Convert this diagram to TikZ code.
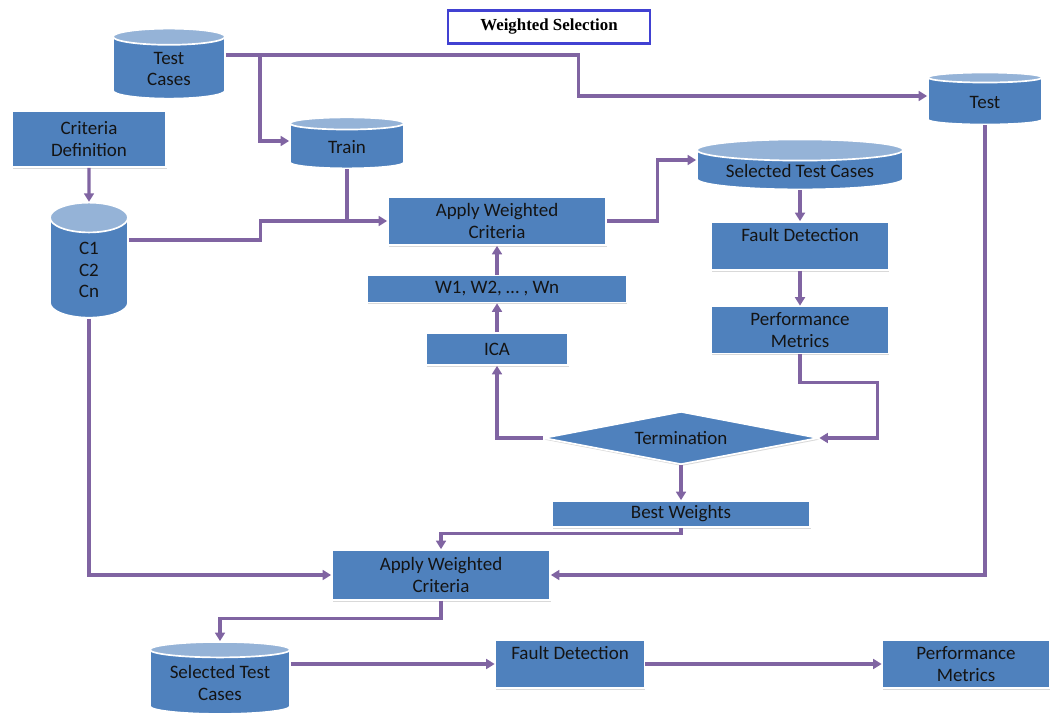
\documentclass[tikz,border=0pt]{standalone}
\usepackage{fontspec}
\setmainfont{Carlito}
\newfontfamily\titlefont{Liberation Serif}
\usetikzlibrary{shapes.geometric, arrows.meta, positioning, calc, shadows}

\definecolor{boxblue}{HTML}{4F81BD}
\definecolor{toplight}{HTML}{95B3D7}
\definecolor{linkpurple}{HTML}{8064A2}
\definecolor{titleblue}{HTML}{4141D2}
\definecolor{boxtext}{HTML}{141414}

\begin{document}
\begin{tikzpicture}[
    x=0.025cm, y=-0.025cm,
    % Node styles
    block/.style={
        rectangle, draw=white, line width=1.2pt, fill=boxblue,
        drop shadow={shadow xshift=0.6pt, shadow yshift=-1.2pt, opacity=0.3},
        font=\fontsize{13.5}{15.5}\selectfont, align=center, text=boxtext,
        inner sep=1pt
    },
    store/.style={
        cylinder, shape border rotate=90, draw=white, line width=1.2pt,
        cylinder uses custom fill, cylinder body fill=boxblue,
        cylinder end fill=toplight,
        font=\fontsize{13.5}{15.5}\selectfont, align=center, text=boxtext,
        inner sep=1pt
    },
    decision/.style={
        diamond, aspect=5.2, draw=white, line width=1.2pt, fill=boxblue,
        drop shadow={shadow xshift=0.6pt, shadow yshift=-1.2pt, opacity=0.3},
        font=\fontsize{13.5}{15.5}\selectfont, text=boxtext, inner sep=0pt
    },
    titlebox/.style={
        rectangle, draw=titleblue, line width=1.8pt, fill=white,
        font=\titlefont\bfseries\fontsize{12}{14}\selectfont,
        minimum width=5.05cm, minimum height=0.825cm
    },
    arrow/.style={
        -{Triangle[length=6pt, width=7pt]}, line width=2.2pt, linkpurple
    },
    link/.style={
        line width=2.2pt, linkpurple
    }
]
\useasboundingbox (0,0) rectangle (1058,715);

% --- Nodes ---
\node[titlebox] (title) at (549,27) {Weighted Selection};

\node[store, aspect=0.35, minimum width=2.8cm, minimum height=1.75cm] (tc) at (169,69) {Test\\Cases};
\node[block, minimum width=3.85cm, minimum height=1.4cm] (crit) at (89,139) {Criteria\\Definition};
\node[store, aspect=1.3, minimum width=1.95cm, minimum height=2.875cm] (cdb) at (89,270) {C1\\C2\\Cn};
\node[store, aspect=0.3, minimum width=2.85cm, minimum height=1.275cm] (train) at (347,147) {Train};
\node[store, aspect=0.3, minimum width=2.85cm, minimum height=1.3cm] (test) at (985,102) {Test};

\node[block, minimum width=5.45cm, minimum height=1.2cm] (apply1) at (497,221) {Apply Weighted\\Criteria};
\node[block, minimum width=6.475cm, minimum height=0.675cm] (wts) at (497,289) {W1, W2, … , Wn};
\node[block, minimum width=3.55cm, minimum height=0.8cm] (ica) at (497,349) {ICA};

\node[store, aspect=0.14, minimum width=5.15cm, minimum height=1.25cm] (sel1) at (800,171) {Selected Test Cases};
\node[block, minimum width=4.425cm, minimum height=1.2cm] (fd1) at (800,246) {Fault Detection\\\mbox{}};
\node[block, minimum width=4.425cm, minimum height=1.175cm] (pm1) at (800,330) {Performance\\Metrics};

\node[decision, minimum width=6.875cm, minimum height=1.325cm] (term) at (681,438) {Termination};
\node[block, minimum width=6.45cm, minimum height=0.65cm] (best) at (681,514) {Best Weights};

\node[block, minimum width=5.45cm, minimum height=1.25cm] (apply2) at (441,575) {Apply Weighted\\Criteria};
\node[store, aspect=0.15, minimum width=3.5cm, minimum height=1.8cm] (sel2) at (220,683) {Selected Test\\Cases};
\node[block, minimum width=3.725cm, minimum height=1.2cm] (fd2) at (570,664) {Fault Detection\\\mbox{}};
\node[block, minimum width=4.175cm, minimum height=1.2cm] (pm2) at (966,664) {Performance\\Metrics};

\coordinate (tcsplit) at (260,55);

% --- Arrows ---
\draw[arrow] ([yshift=0.35cm]tc.east) -- ++(353,0) |- ([yshift=0.15cm]test.west);
\draw[arrow] (tcsplit) |- ([yshift=0.15cm]train.west);
\draw[arrow] (crit) -- (cdb);
\draw[arrow] ([yshift=0.75cm]cdb.east) -- ++(132,0) |- (apply1.west);
\draw[link] (train.south) -- (train.south |- apply1.west);
\draw[arrow] (apply1.east) -- ++(51,0) |- ([yshift=0.275cm]sel1.west);
\draw[arrow] (sel1) -- (fd1);
\draw[arrow] (fd1) -- (pm1);
\draw[arrow] (pm1.south) -- ++(0,28) -| ($(term.east)+(58,0)$) -- (term.east);
\draw[arrow] (term.west) -| (ica.south);
\draw[arrow] (ica) -- (wts);
\draw[arrow] (wts) -- (apply1);
\draw[arrow] (term) -- (best);
\draw[arrow] (best.south) -- ++(0,6) -| (apply2.north);
\draw[arrow] (cdb.south) |- (apply2.west);
\draw[arrow] (test.south) |- (apply2.east);
\draw[arrow] (apply2.south) -- ++(0,18) -| (sel2.north);
\draw[arrow] (sel2.east |- fd2.west) -- (fd2.west);
\draw[arrow] (fd2) -- (pm2);

\end{tikzpicture}
\end{document}
